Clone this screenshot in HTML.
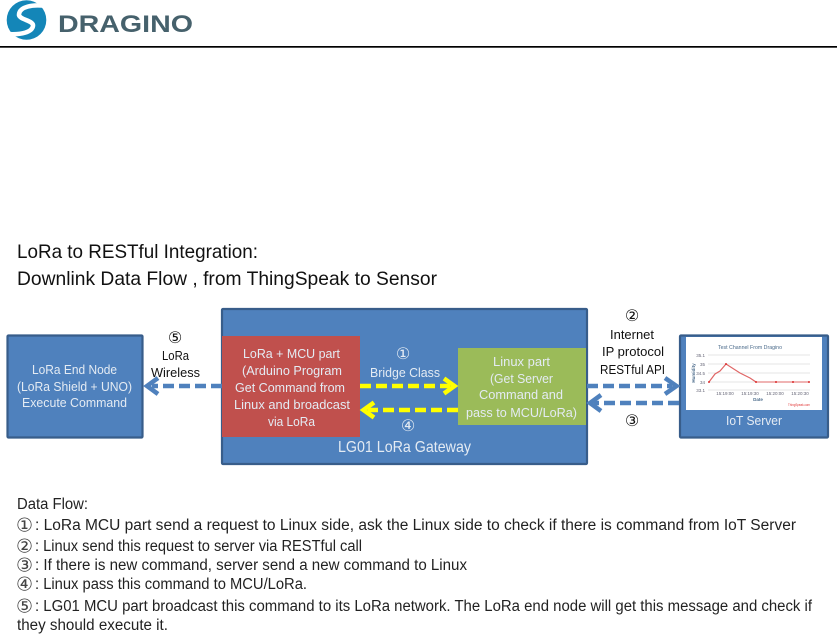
<!DOCTYPE html>
<html>
<head>
<meta charset="utf-8">
<style>
html,body{margin:0;padding:0;background:#fff;width:837px;height:636px;overflow:hidden}
svg{display:block}
text{font-family:"Liberation Sans","DejaVu Sans",sans-serif}
.b{fill:#111;font-size:13px}
.w{fill:#e4ebf3;font-size:13px}
.t{fill:#111;font-size:19.5px}
.d{fill:#222;font-size:15.5px}
.c{font-family:"DejaVu Sans","Noto Sans CJK JP",sans-serif;font-size:16px;fill:#111;text-anchor:middle}
.cw{font-family:"DejaVu Sans","Noto Sans CJK JP",sans-serif;font-size:16px;fill:#e4ebf3;text-anchor:middle}
.cl{font-family:"DejaVu Sans","Noto Sans CJK JP",sans-serif;font-size:19px;fill:#444}
.x{font-size:4.5px;fill:#667}
</style>
</head>
<body>
<svg width="837" height="636" viewBox="0 0 837 636" xmlns="http://www.w3.org/2000/svg">
<rect width="837" height="636" fill="#fff"/>

<!-- Logo -->
<g>
<circle cx="26.5" cy="20" r="19.8" fill="#1486b8"/>
<path d="M46 6 C32 4 20 7 19 14 C18 20 34 20 33 26 C32 32 22 35 7 34" fill="none" stroke="#fff" stroke-width="4.5" stroke-linecap="round"/>
<path d="M37 0 L48 0 L48 6 Z M5 33 L5 41 L16 41 Z" fill="#fff"/>
<text x="58" y="32" font-weight="700" font-size="24" fill="#46616c" textLength="135" lengthAdjust="spacingAndGlyphs">DRAGINO</text>
</g>
<rect x="0" y="46" width="837" height="1.7" fill="#000"/>

<!-- Title -->
<text class="t" x="17" y="258" textLength="241" lengthAdjust="spacingAndGlyphs">LoRa to RESTful Integration:</text>
<text class="t" x="17" y="285" textLength="420" lengthAdjust="spacingAndGlyphs">Downlink Data Flow , from ThingSpeak to Sensor</text>

<!-- Boxes -->
<rect x="7.5" y="335.5" width="135" height="102" rx="1" fill="#4f81bd" stroke="#385d8a" stroke-width="2.2"/>
<rect x="222" y="309" width="365" height="155" rx="1" fill="#4f81bd" stroke="#385d8a" stroke-width="2.2"/>
<rect x="222" y="336" width="138" height="101" fill="#c0504d"/>
<rect x="458" y="348" width="128" height="77" fill="#9bbb59"/>
<rect x="680" y="335.5" width="148" height="102" rx="1" fill="#4f81bd" stroke="#385d8a" stroke-width="2.2"/>
<rect x="686" y="337" width="136" height="73" fill="#fff"/>

<!-- Chart -->
<g>
<text x="718" y="349" font-size="5" fill="#4a6a8a" textLength="64" lengthAdjust="spacingAndGlyphs">Test Channel From Dragino</text>
<g stroke="#dcdcdc" stroke-width=".8">
<line x1="708" y1="355" x2="810" y2="355"/>
<line x1="708" y1="364" x2="810" y2="364"/>
<line x1="708" y1="373" x2="810" y2="373"/>
<line x1="708" y1="382" x2="810" y2="382"/>
<line x1="708" y1="390" x2="810" y2="390"/>
</g>
<polyline points="709,382 715,374 720,371 726,364 740,373 750,378 756,382" fill="none" stroke="#e06666" stroke-width="1.2"/>
<line x1="756" y1="382" x2="809" y2="382" stroke="#eeaaaa" stroke-width="1.8"/>
<g fill="#d33"><circle cx="709" cy="382" r="1"/><circle cx="726" cy="364" r="1"/><circle cx="756" cy="382" r="1"/><circle cx="776" cy="382" r="1"/><circle cx="793" cy="382" r="1"/><circle cx="809" cy="382" r="1"/></g>
<g class="x">
<text class="x" x="705" y="357" text-anchor="end">35.1</text>
<text class="x" x="705" y="366" text-anchor="end">35</text>
<text class="x" x="705" y="375" text-anchor="end">34.5</text>
<text class="x" x="705" y="384" text-anchor="end">34</text>
<text class="x" x="705" y="392" text-anchor="end">33.1</text>
<text class="x" x="725" y="395" text-anchor="middle">15:19:00</text>
<text class="x" x="750" y="395" text-anchor="middle">15:19:30</text>
<text class="x" x="775" y="395" text-anchor="middle">15:20:00</text>
<text class="x" x="800" y="395" text-anchor="middle">15:20:30</text>
</g>
<text x="758" y="401" font-size="4.5" font-weight="700" fill="#4a6a8a" text-anchor="middle">Date</text>
<text x="695" y="373" font-size="4.5" font-weight="700" fill="#4a6a8a" text-anchor="middle" transform="rotate(-90 695 373)">Humidity</text>
<text x="788" y="406" font-size="4" fill="#e03030" textLength="22" lengthAdjust="spacingAndGlyphs">ThingSpeak.com</text>
</g>

<!-- Connectors -->
<g fill="none" stroke-linejoin="miter">
<line x1="222" y1="386" x2="152" y2="386" stroke="#4f81bd" stroke-width="4.5" stroke-dasharray="11 5"/>
<polyline points="158,378 147,386 158,394" stroke="#4f81bd" stroke-width="4.5"/>

<line x1="360" y1="386" x2="450" y2="386" stroke="#ffff00" stroke-width="4.5" stroke-dasharray="11 5"/>
<polyline points="444,378.5 454.5,386 444,393.5" stroke="#ffff00" stroke-width="4.5"/>

<line x1="458" y1="410" x2="368" y2="410" stroke="#ffff00" stroke-width="4.5" stroke-dasharray="11 5"/>
<polyline points="374,402.5 363.5,410 374,417.5" stroke="#ffff00" stroke-width="4.5"/>

<line x1="587" y1="386" x2="672" y2="386" stroke="#4f81bd" stroke-width="4.5" stroke-dasharray="11 5"/>
<polyline points="665,378 676.5,386 665,394" stroke="#4f81bd" stroke-width="4.5"/>

<line x1="679" y1="403" x2="594" y2="403" stroke="#4f81bd" stroke-width="4.5" stroke-dasharray="11 5"/>
<polyline points="601,395 590,403 601,411" stroke="#4f81bd" stroke-width="4.5"/>
</g>

<!-- End node text -->
<text class="w" x="32" y="374" textLength="85" lengthAdjust="spacingAndGlyphs">LoRa End Node</text>
<text class="w" x="17" y="391" textLength="115" lengthAdjust="spacingAndGlyphs">(LoRa Shield + UNO)</text>
<text class="w" x="22" y="407" textLength="105" lengthAdjust="spacingAndGlyphs">Execute Command</text>

<!-- Wireless label -->
<text class="c" x="175" y="343">⑤</text>
<text class="b" x="162" y="360" textLength="27" lengthAdjust="spacingAndGlyphs">LoRa</text>
<text class="b" x="151" y="377" textLength="49" lengthAdjust="spacingAndGlyphs">Wireless</text>

<!-- Red box text -->
<text class="w" x="243" y="358" textLength="97" lengthAdjust="spacingAndGlyphs">LoRa + MCU part</text>
<text class="w" x="242" y="375" textLength="100" lengthAdjust="spacingAndGlyphs">(Arduino Program</text>
<text class="w" x="235" y="392" textLength="110" lengthAdjust="spacingAndGlyphs">Get Command  from</text>
<text class="w" x="234" y="409" textLength="116" lengthAdjust="spacingAndGlyphs">Linux and broadcast</text>
<text class="w" x="268" y="426" textLength="47" lengthAdjust="spacingAndGlyphs">via LoRa</text>

<!-- Bridge -->
<text class="cw" x="403" y="359">①</text>
<text class="w" x="370" y="377" textLength="70" lengthAdjust="spacingAndGlyphs">Bridge Class</text>
<text class="cw" x="408" y="431">④</text>
<text x="338" y="452" font-size="16" fill="#e4ebf3" textLength="133" lengthAdjust="spacingAndGlyphs">LG01 LoRa Gateway</text>

<!-- Green text -->
<text class="w" x="493" y="366" textLength="57" lengthAdjust="spacingAndGlyphs">Linux part</text>
<text class="w" x="490" y="383" textLength="63" lengthAdjust="spacingAndGlyphs">(Get Server</text>
<text class="w" x="479" y="399" textLength="84" lengthAdjust="spacingAndGlyphs">Command  and</text>
<text class="w" x="466" y="417" textLength="111" lengthAdjust="spacingAndGlyphs">pass to MCU/LoRa)</text>

<!-- Internet label -->
<text class="c" x="632" y="321">②</text>
<text class="b" x="610" y="339" textLength="44" lengthAdjust="spacingAndGlyphs">Internet</text>
<text class="b" x="602" y="356" textLength="62" lengthAdjust="spacingAndGlyphs">IP protocol</text>
<text class="b" x="600" y="374" textLength="65" lengthAdjust="spacingAndGlyphs">RESTful API</text>
<text class="c" x="632" y="426">③</text>

<!-- IoT -->
<text class="w" x="726" y="425" font-size="13.5" textLength="56" lengthAdjust="spacingAndGlyphs">IoT Server</text>

<!-- Data flow -->
<text class="d" x="17" y="509" textLength="71" lengthAdjust="spacingAndGlyphs">Data Flow:</text>
<text class="cl" x="16" y="531.5">①</text>
<text class="d" x="35" y="530" textLength="761" lengthAdjust="spacingAndGlyphs">: LoRa MCU part send a request to Linux side, ask the Linux side to check if there is command from IoT Server</text>
<text class="cl" x="16" y="552.5">②</text>
<text class="d" x="35" y="551" textLength="327" lengthAdjust="spacingAndGlyphs">: Linux send this request to server via RESTful call</text>
<text class="cl" x="16" y="571.5">③</text>
<text class="d" x="35" y="570" textLength="432" lengthAdjust="spacingAndGlyphs">: If there is new command, server send a new command to Linux</text>
<text class="cl" x="16" y="590.5">④</text>
<text class="d" x="35" y="589" textLength="272" lengthAdjust="spacingAndGlyphs">: Linux pass this command to MCU/LoRa.</text>
<text class="cl" x="16" y="612.5">⑤</text>
<text class="d" x="35" y="611" textLength="777" lengthAdjust="spacingAndGlyphs">: LG01 MCU part broadcast this command to its LoRa network. The LoRa end node will get this message and check if</text>
<text class="d" x="17" y="630" textLength="151" lengthAdjust="spacingAndGlyphs">they should execute it.</text>
</svg>
</body>
</html>
